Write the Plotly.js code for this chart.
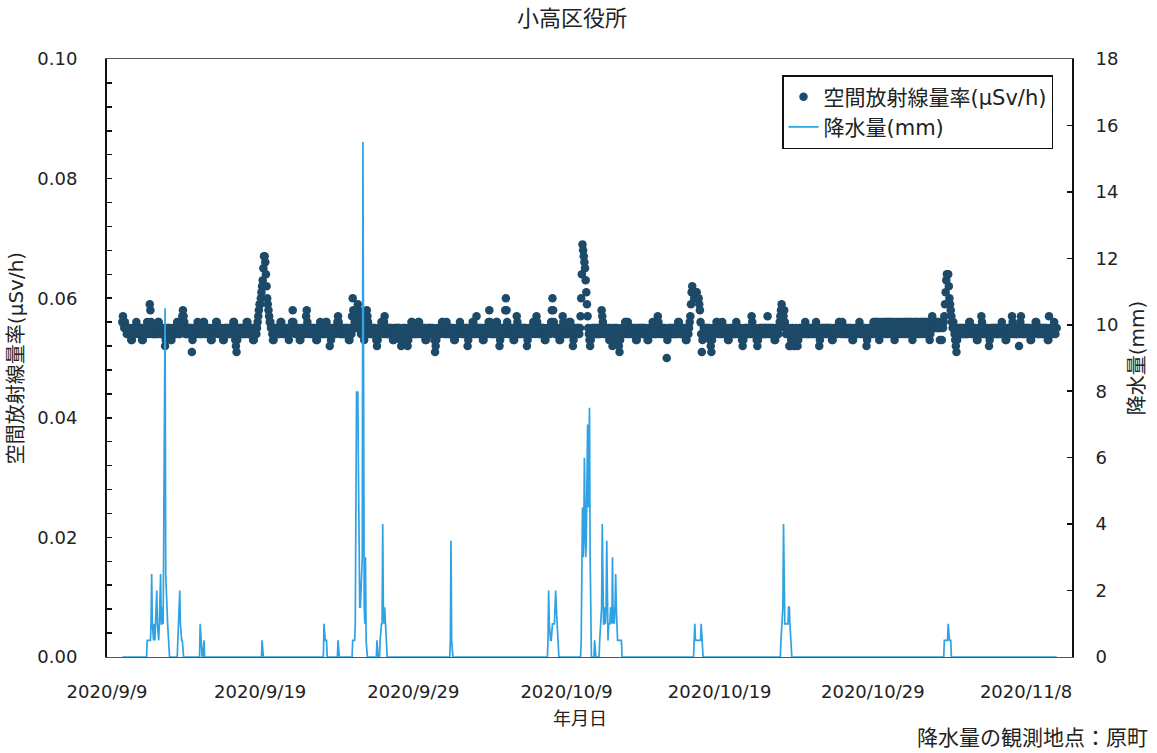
<!DOCTYPE html>
<html><head><meta charset="utf-8">
<script src="https://cdn.plot.ly/plotly-3.0.1.min.js"></script>
<style>html,body{margin:0;padding:0;background:#fff}#chart{width:1157px;height:753px}</style>
</head><body><div id="chart"></div>
<script>
// hourly series start (both series)
const startTime = "2020-09-10 00:00";

// 空間放射線量率: one string per day (24 hourly values, groups of 6 hours).
// each character = thousandths above 0.050 µSv/h in base 36 ("5" = 0.055, "a" = 0.060, "j" = 0.069)
const doseDayCodes = [
  "676565 545454 543345 454565", // 9/10
  "545454 533454 545654 598654",
  "545454 546654 545454 423454",
  "545433 454545 456545 455678",
  "765454 545454 513454 545465",
  "545454 566545 454545 433454",
  "545665 545454 543345 454545",
  "454545 665321 345454 545454",
  "545664 545454 533454 456789",
  "9abcdf hhgeca 987665 543345", // 9/19
  "454545 456654 545454 545345",
  "556865 545454 543345 454545",
  "786545 545454 545433 454565",
  "454545 466545 524345 454545",
  "567654 545454 545454 533454",
  "7a8765 567987 654545 435678", // 9/25
  "765454 545454 543234 454565",
  "546754 545454 545433 454545",
  "545432 345454 543234 545665",
  "454545 546654 545454 533454",
  "545454 454312 345454 545665", // 9/30
  "545465 454545 545433 454545",
  "565545 454545 523454 545664",
  "545754 545454 533454 454568",
  "654545 454566 545234 545454",
  "8a8654 545454 533454 765454",
  "545454 545423 454545 456654",
  "676545 454545 543345 454545",
  "68a865 454545 433454 765454",
  "545465 645423 454545 45457a", // 10/9
  "ejihgf db9754 323454 545454", // 10/10
  "545454 587654 545454 533454",
  "234545 454321 345454 546654",
  "654545 545454 533454 545454",
  "545454 433454 545654 545467",
  "654545 545454 403454 545454",
  "545454 566545 454545 433454",
  "5679bc bbaaab baaa98 641345", // 10/17
  "545454 545321 345454 566545",
  "545465 454545 433454 545454",
  "546545 454543 234545 454545",
  "547654 545432 345454 545454",
  "545754 545454 543345 454567",
  "897678 654545 425234 543245", // 10/23
  "432345 454545 546545 454545",
  "545454 565454 234545 454545",
  "545454 543345 454545 566545",
  "654545 545454 545433 454545",
  "545654 545454 542345 454545",
  "564656 465635 654565 465646", // 10/29
  "465646 564536 465456 546564",
  "564656 465646 563465 646564",
  "654656 465646 564653 465756",
  "565656 565356 365679 bdeeec", // 11/2
  "a98765 654321 345454 545454",
  "545454 566545 454545 433454",
  "547654 545454 542345 454545",
  "545454 545465 545433 454545",
  "547654 545454 524675 454545",
  "545454 533454 545665 454545",
  "545454 545433 754545 456545", // 11/9
  "5"                             // 11/10 0:00
];

// 降水量 (mm): rain spells, start hour and consecutive hourly amounts; all other hours are 0
const rainSpellStart = [
  "2020-09-11 15:00", "2020-09-13 15:00", "2020-09-15 02:00", "2020-09-15 07:00",
  "2020-09-19 03:00", "2020-09-23 04:00", "2020-09-24 02:00", "2020-09-25 01:00",
  "2020-09-26 15:00", "2020-09-26 20:00", "2020-10-01 10:00", "2020-10-07 19:00",
  "2020-10-09 23:00", "2020-10-10 20:00", "2020-10-11 04:00", "2020-10-17 08:00",
  "2020-10-23 00:00", "2020-11-02 16:00"
];
const rainSpellMm = [
  [0.5,0.5,0.5,0.5,0.5,0.5,1.0,2.5,1.0, 0.5,0.5,1.0,0.5,1.0,1.5,2.0,1.0,0.5,0.5,1.0,1.5,2.5,1.0,1.0,1.5,1.0,4.0,7.5,10.5,2.5,1.5,1.5,1.0, 0.5],
  [0.5,1.0,1.5,2.0,1.0,0.5,0.5,0.5],
  [1.0,0.5],
  [0.5,0.5],
  [0.5],
  [1.0,0.5,0.5,0.5,0.5],
  [0.5],
  [0.5,0.5,0.5,0.5,1.0,6.0,8.0,7.5,8.0,5.5,2.0,1.5,1.5,2.0,2.5,3.0,15.5,2.0,1.5,1.0,3.0,0.5],
  [0.5],
  [0.5,1.0,1.0,1.0,4.0,1.5,1.0,1.5,1.0,0.5],
  [0.5,3.5,0.5],
  [0.5,2.0,1.0,0.5,0.5, 0.5,1.0,1.0,1.0,1.0,1.0,1.5,2.0,1.5,1.0,0.5],
  [0.5, 2.0,4.5,3.0,3.5,6.0,4.0,3.0,3.5,5.0,7.0,4.5,5.5,7.5,3.0,0.5],
  [0.5],
  [0.5,1.0,1.0,1.5,4.0,1.0,1.0,1.0,1.5,1.0,1.5,3.5,1.0,0.5,1.0,1.0,1.0,1.5,1.0,1.0,
   3.0,1.0,1.5,1.0,1.5,2.5,1.5,0.5,0.5,0.5,0.5,0.5,0.5,0.5,0.5],
  [0.5,1.0,0.5,0.5,0.5,0.5,0.5,0.5,0.5,0.5,0.5,1.0,0.5],
  [0.5,1.0,1.0,1.5,4.0,1.5,1.0,1.0,1.0,1.0,1.0,1.0,1.5,1.5,1.0,0.5,0.5],
  [0.5,0.5,0.5,0.5,0.5,0.5,1.0,0.5,0.5,0.5,0.5]
];

const xRange = ["2020-09-09", "2020-11-11"];
const xTick0 = "2020-09-09";

// ---- build hourly series ----
const HOUR = 3600000;
const toMs = s => Date.parse(s.replace(" ", "T") + ":00Z");
const t0 = toMs(startTime);
const stamp = ms => new Date(ms).toISOString().slice(0, 16).replace("T", " ");

const doseValues = [];
doseDayCodes.forEach(day => {
  for (const ch of day.replace(/ /g, "")) doseValues.push(0.050 + parseInt(ch, 36) / 1000);
});
const nHours = doseValues.length;
const times = [];
for (let i = 0; i < nHours; i++) times.push(stamp(t0 + i * HOUR));

const rainValues = new Array(nHours).fill(0);
rainSpellStart.forEach((s, k) => {
  const i0 = Math.round((toMs(s) - t0) / HOUR);
  rainSpellMm[k].forEach((v, j) => { if (i0 + j < nHours) rainValues[i0 + j] = v; });
});

const FONT = "DejaVu Sans, Noto Sans CJK JP, sans-serif";
const TXT = "#222";

const traces = [
  {
    x: times, y: doseValues, type: "scatter", mode: "markers",
    name: "空間放射線量率(μSv/h)",
    marker: { color: "#1d4a68", size: 8.5, line: { width: 0 } },
    yaxis: "y", hoverinfo: "skip"
  },
  {
    x: times, y: rainValues, type: "scatter", mode: "lines",
    name: "降水量(mm)",
    line: { color: "#2ea2e2", width: 1.7 },
    yaxis: "y2", hoverinfo: "skip"
  }
];

const layout = {
  width: 1157, height: 753,
  margin: { l: 107, r: 85, t: 59, b: 96, pad: 0 },
  paper_bgcolor: "#fff", plot_bgcolor: "#fff",
  font: { family: FONT, color: TXT, size: 18 },
  showlegend: true,
  title: {
    text: "小高区役所", font: { family: FONT, size: 22, color: TXT },
    x: 572 / 1157, xref: "container", xanchor: "center",
    y: 1 - 18 / 753, yref: "container", yanchor: "middle"
  },
  xaxis: {
    type: "date", range: xRange, tick0: xTick0, dtick: 10 * 86400000,
    tickformat: "%Y/%-m/%-d", ticks: "", showgrid: false, zeroline: false,
    showline: true, mirror: true, linecolor: "#555", linewidth: 1.3,
    layer: "below traces",
    tickfont: { family: FONT, size: 18, color: TXT },
    ticklabelstandoff: 18
  },
  yaxis: {
    range: [0, 0.1], dtick: 0.02, tickformat: ".2f",
    ticks: "inside", ticklen: 5, tickwidth: 1.5, tickcolor: "#111",
    minor: { dtick: 0.004, ticks: "inside", ticklen: 5, tickwidth: 1.5, tickcolor: "#111" },
    showgrid: false, zeroline: false, showline: true, linecolor: "#111", linewidth: 2,
    layer: "below traces",
    tickfont: { family: FONT, size: 18, color: TXT },
    ticklabelstandoff: 24,
    title: { text: "空間放射線量率(μSv/h)", font: { family: FONT, size: 20, color: TXT }, standoff: 8 }
  },
  yaxis2: {
    overlaying: "y", side: "right", range: [0, 18], dtick: 2,
    ticks: "inside", ticklen: 5, tickwidth: 1.5, tickcolor: "#111",
    showgrid: false, zeroline: false, showline: true, linecolor: "#111", linewidth: 2,
    layer: "below traces",
    tickfont: { family: FONT, size: 18, color: TXT },
    ticklabelstandoff: 18,
    title: { text: "降水量(mm)", font: { family: FONT, size: 20, color: TXT }, standoff: 12 }
  },
  legend: {
    x: (782 - 107) / 965, y: (657 - 75) / 598, xanchor: "left", yanchor: "top",
    bgcolor: "#fff", bordercolor: "#111", borderwidth: 1.5,
    font: { family: FONT, size: 21, color: TXT }
  },
  annotations: [
    {
      text: "年月日", showarrow: false,
      xref: "paper", yref: "paper",
      x: (580 - 107) / 965, xanchor: "center",
      y: (657 - 718) / 598, yanchor: "middle",
      font: { family: FONT, size: 18, color: TXT }
    },
    {
      text: "降水量の観測地点：原町", showarrow: false,
      xref: "paper", yref: "paper",
      x: (1150 - 107) / 965, xanchor: "right",
      y: (657 - 738) / 598, yanchor: "middle",
      font: { family: FONT, size: 21, color: TXT }
    }
  ]
};

Plotly.newPlot("chart", traces, layout, { displayModeBar: false, staticPlot: true });
</script>
</body></html>
